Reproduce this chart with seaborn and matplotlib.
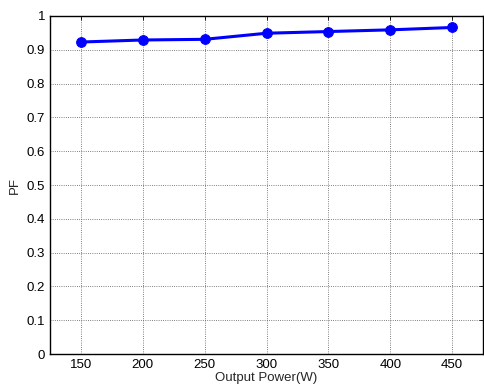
import pandas as pd
import seaborn as sns
import matplotlib.pyplot as plt

power = [150, 200, 250, 300, 350, 400, 450]
pf = [0.923, 0.929, 0.931, 0.949, 0.954, 0.959, 0.966]
y_ticks = [0, 0.1, 0.2, 0.3, 0.4, 0.5, 0.6, 0.7, 0.8, 0.9, 1]
y_labels = ['0', '0.1', '0.2', '0.3', '0.4', '0.5', '0.6', '0.7', '0.8', '0.9', '1']

df = pd.DataFrame({'Output Power(W)': power, 'PF': pf})

sns.set_style('white')
plt.rcParams['font.family'] = ['Liberation Sans', 'DejaVu Sans']

fig = plt.figure(figsize=(4.85, 3.90), dpi=100)
ax = fig.add_axes([0.103, 0.092, 0.893, 0.867])

sns.lineplot(data=df, x='Output Power(W)', y='PF', ax=ax, color='#0000ff',
             marker='o', markersize=7, markeredgecolor='#0000ff', linewidth=2.2)

ax.set_xlim(125, 475)
ax.set_ylim(0, 1)
ax.set_xticks(power)
ax.set_yticks(y_ticks)
ax.set_yticklabels(y_labels)
ax.grid(True, color='#555555', linestyle=':', linewidth=0.6)
ax.tick_params(direction='in', length=3, labelsize=9.5, colors='black', width=0.6,
               top=True, right=True)
for s in ax.spines.values():
    s.set_color('black')
    s.set_linewidth(1.0)
ax.set_xlabel('Output Power(W)', fontsize=9.5, labelpad=1)
ax.set_ylabel('PF', fontsize=9.5, labelpad=4)

fig.savefig('out.png', dpi=100)
